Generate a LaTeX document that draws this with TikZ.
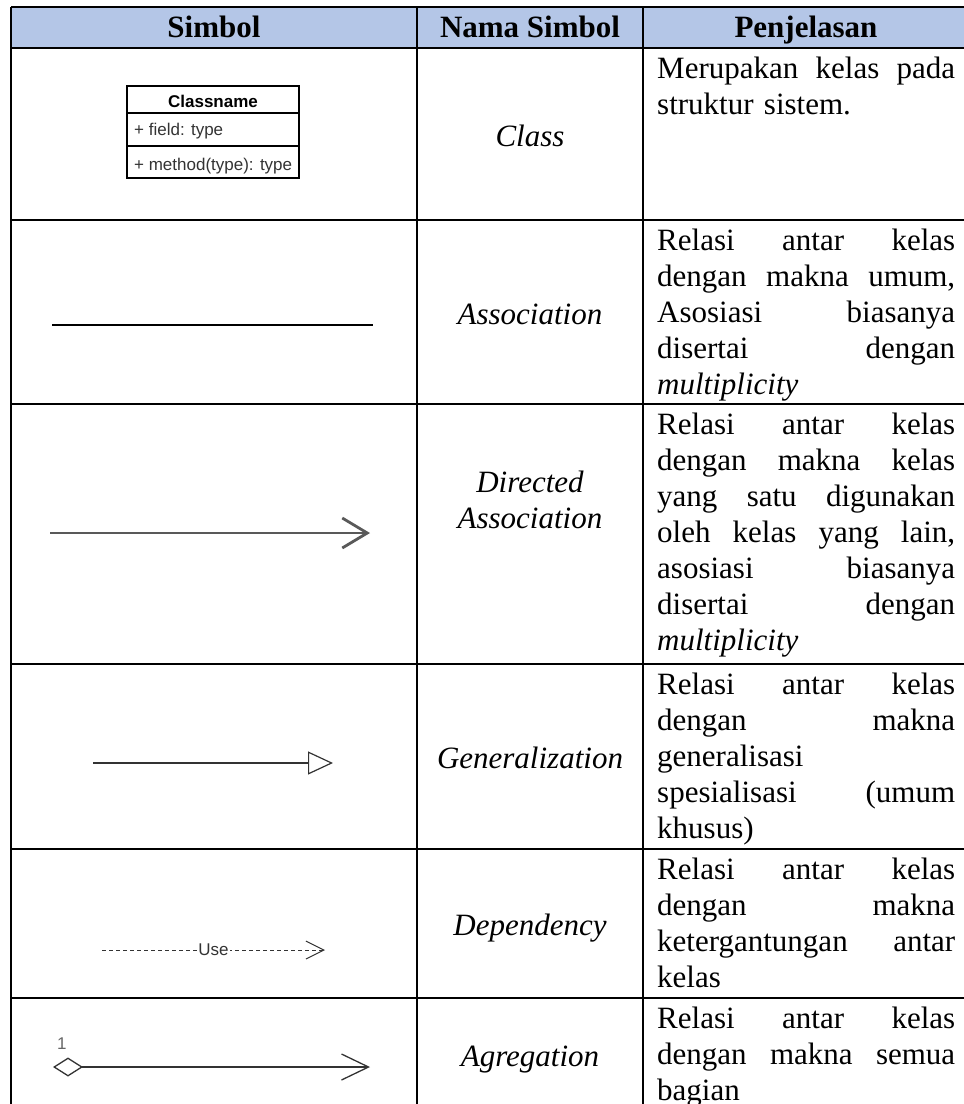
\documentclass[tikz,border=0pt]{standalone}
\usepackage{fontspec}
\setmainfont{Liberation Serif}
\newfontfamily\umlfont{Liberation Sans}
\usepackage{tikz}
\usetikzlibrary{positioning, arrows.meta}

\definecolor{headblue}{HTML}{B4C6E7}
\definecolor{umlink}{HTML}{333333}
% one justified line of the Penjelasan column
\newcommand{\jl}[1]{\leavevmode\hbox to 298pt{\spaceskip=\fontdimen2\font plus 1fil\relax #1}\\}

\begin{document}
\begin{tikzpicture}[x=1pt, y=-1pt,
    grid/.style={line width=1.6pt, black},
    head/.style={font=\fontsize{31}{36}\selectfont\bfseries, inner sep=0pt, anchor=base},
    nama/.style={font=\fontsize{31}{36}\selectfont\itshape, inner sep=0pt, anchor=base, align=center},
    desc/.style={font=\fontsize{31}{36}\selectfont, inner sep=0pt, anchor=base west, text width=298pt, align=left},
    uml/.style={font=\umlfont\fontsize{17}{20}\selectfont, text=umlink, inner sep=0pt},
    umlbold/.style={uml, font=\umlfont\bfseries\fontsize{17}{20}\selectfont, text=black},
    ]
    \useasboundingbox (0,0) rectangle (964,1104);
    \clip (0,0) rectangle (964,1104);

    % table
    \fill[headblue] (11,7) rectangle (969,48);
    \foreach \x in {11,417,643,969}
        \draw[grid] (\x,7) -- (\x,1111);
    \foreach \y in {7,48,220,404,664,849,998,1111}
        \draw[grid] (11,\y) -- (969,\y);

    \node[head] (hsimbol) at (214,37) {Simbol};
    \node[head] (hnama) at (530,37) {Nama Simbol};
    \node[head] (hpenj) at (806,37) {Penjelasan};

    \node[nama] (nclass) at (530,146) {Class};
    \node[nama] (nassoc) at (530,324) {Association};
    \node[nama] (ndirect) at (530,528) {Directed\\Association};
    \node[nama] (ngen) at (530,768) {Generalization};
    \node[nama] (ndep) at (530,935) {Dependency};
    \node[nama] (nagr) at (530,1066) {Agregation};

    \node[desc] (dclass) at (657,78) {\jl{Merupakan kelas pada}struktur sistem.};
    \node[desc] (dassoc) at (657,250) {\jl{Relasi antar kelas}\jl{dengan makna umum,}\jl{Asosiasi biasanya}\jl{disertai dengan}\textit{multiplicity}};
    \node[desc] (ddirect) at (657,434) {\jl{Relasi antar kelas}\jl{dengan makna kelas}\jl{yang satu digunakan}\jl{oleh kelas yang lain,}\jl{asosiasi biasanya}\jl{disertai dengan}\textit{multiplicity}};
    \node[desc] (dgen) at (657,694) {\jl{Relasi antar kelas}\jl{dengan makna}generalisasi\\\jl{spesialisasi (umum}khusus)};
    \node[desc] (ddep) at (657,879) {\jl{Relasi antar kelas}\jl{dengan makna}\jl{ketergantungan antar}kelas};
    \node[desc] (dagr) at (657,1028) {\jl{Relasi antar kelas}\jl{dengan makna semua}bagian};

    % class box
    \coordinate (cnw) at (127,86);
    \coordinate (cse) at (299,178);
    \draw[line width=1.2pt] (cnw) rectangle (cse);
    \draw[line width=1.2pt] (127,113) -- (299,113) (127,146) -- (299,146);
    \node[umlbold] (cname) at (213,101) {Classname};
    \node[uml, anchor=west] (cfield) at (134,131) {+ field: type};
    \node[uml, anchor=west] (cmeth) at (134,166) {+ method(type): type};

    % association
    \coordinate (asa) at (52,325);
    \coordinate (asb) at (373,325);
    \draw[line width=2pt] (asa) -- (asb);

    % directed association
    \coordinate (dia) at (50,533);
    \coordinate (dib) at (370,533);
    \draw[line width=2.8pt, black!65, -{Straight Barb[length=25pt, width=30pt]}] (dia) -- (dib);

    % generalization
    \coordinate (gna) at (93,763);
    \coordinate (gnb) at (333,763);
    \draw[line width=1.2pt, umlink, -{Triangle[open, length=25pt, width=23pt]}] (gna) -- (gnb);

    % dependency
    \coordinate (dpa) at (102,950);
    \coordinate (dpb) at (325,950);
    \draw[line width=1pt, umlink, dash pattern=on 4pt off 3pt, -{Straight Barb[length=18pt, width=18pt]}]
        (dpa) -- node[uml, fill=white, inner xsep=1pt] (use) {Use} (dpb);

    % agregation
    \coordinate (aga) at (53,1067);
    \coordinate (agb) at (370,1067);
    \draw[line width=1.3pt, umlink, {Diamond[open, length=30pt, width=19pt]}-{Straight Barb[length=27pt, width=26pt]}] (aga) -- (agb);
    \node[uml, text=black!60, above right=17pt and 4pt of aga] (mult) {1};
\end{tikzpicture}
\end{document}
